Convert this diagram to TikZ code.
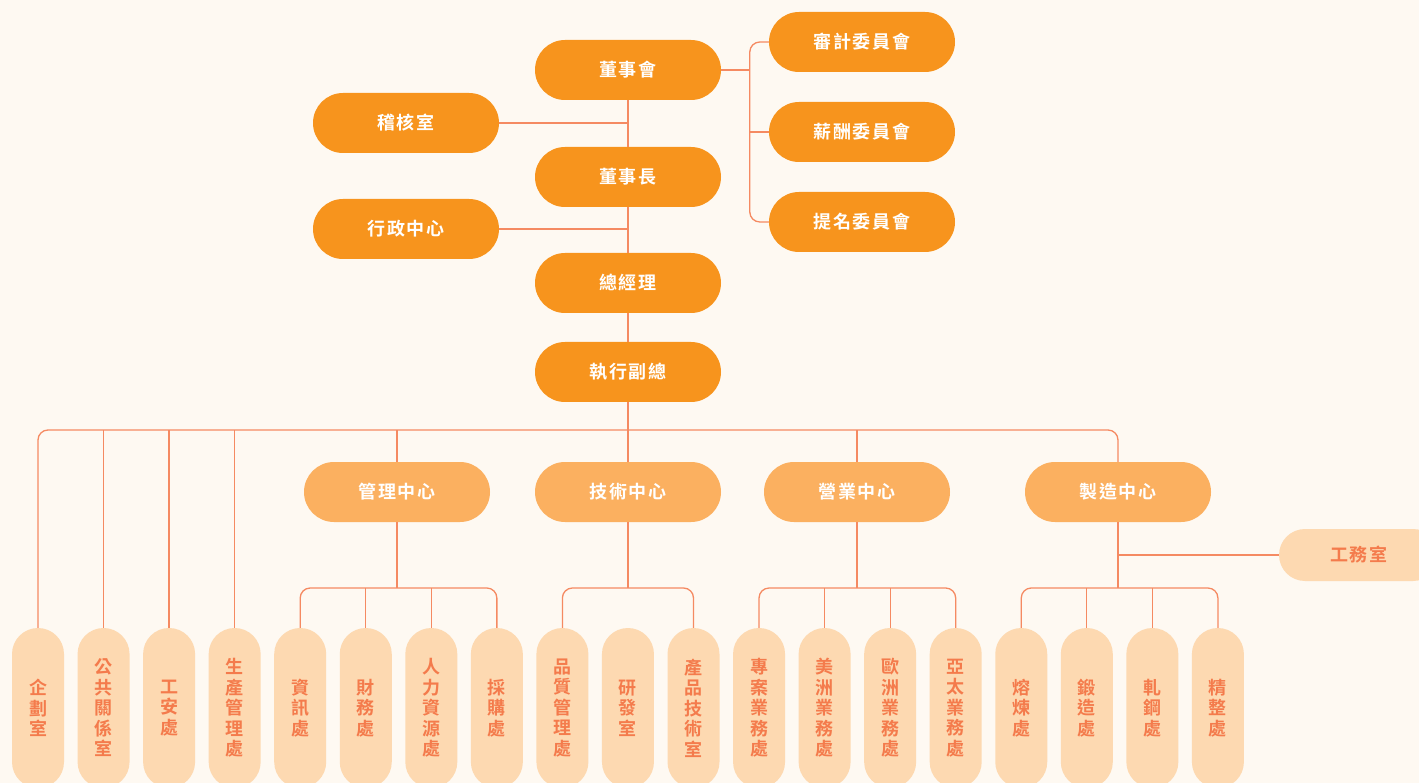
\documentclass[tikz,border=0pt]{standalone}
\usepackage{fontspec}
\newfontfamily\cjk{Noto Sans CJK TC}[BoldFont={Noto Sans CJK TC Bold},LetterSpace=10]
\newfontfamily\cjkv{Noto Sans CJK TC}[BoldFont={Noto Sans CJK TC Bold}]
\usetikzlibrary{calc}

\definecolor{bgc}{HTML}{FEF9F2}
\definecolor{darkor}{HTML}{F7941D}
\definecolor{midor}{HTML}{FBB060}
\definecolor{lightor}{HTML}{FDD9B1}
\definecolor{textor}{HTML}{F47B4C}
\definecolor{linec}{HTML}{F58A62}

\begin{document}
\begin{tikzpicture}[x=1pt,y=1pt,yscale=-1,xscale=1,
    topbox/.style={fill=darkor,rounded corners=30pt,minimum width=186pt,minimum height=60pt,inner sep=0pt,text=white,font=\cjk\bfseries\fontsize{18}{20}\selectfont},
    centerbox/.style={topbox,fill=midor},
    unitbox/.style={fill=lightor,rounded corners=26pt,minimum width=52pt,minimum height=160pt,inner sep=0pt,align=center,text=textor,font=\cjkv\bfseries\fontsize{18}{20.5}\selectfont},
    sidebox/.style={fill=lightor,rounded corners=26pt,minimum width=160pt,minimum height=52pt,inner sep=0pt,text=textor,font=\cjk\bfseries\fontsize{18}{20}\selectfont},
    link/.style={draw=linec,line width=1.3pt}]
            \fill[bgc] (0,0) rectangle (1419,783);
            \useasboundingbox (0,0) rectangle (1419,783);

            % board and management
            \node[topbox] (dsh) at (628,70) {董事會};
            \node[topbox] (jhs) at (406,123) {稽核室};
            \node[topbox] (dsz) at (628,177) {董事長};
            \node[topbox] (xz) at (406,229) {行政中心};
            \node[topbox] (zjl) at (628,283) {總經理};
            \node[topbox] (fz) at (628,372) {執行副總};
            \node[topbox] (sj) at (862,42) {審計委員會};
            \node[topbox] (xc) at (862,132) {薪酬委員會};
            \node[topbox] (tm) at (862,222) {提名委員會};

            % centers
            \node[centerbox] (gl) at (397,492) {管理中心};
            \node[centerbox] (js) at (628,492) {技術中心};
            \node[centerbox] (yy) at (857,492) {營業中心};
            \node[centerbox] (zz) at (1118,492) {製造中心};
            \node[sidebox] (gws) at (1359,555) {工務室};

            % units
            \foreach \nm/\txt [count=\i from 0] in {qh/企\\劃\\室,gg/公\\共\\關\\係\\室,ga/工\\安\\處,sc/生\\產\\管\\理\\處,
                zx/資\\訊\\處,cw/財\\務\\處,rl/人\\力\\資\\源\\處,cg/採\\購\\處,
                pz/品\\質\\管\\理\\處,yf/研\\發\\室,cp/產\\品\\技\\術\\室,
                zy/專\\案\\業\\務\\處,mz/美\\洲\\業\\務\\處,oz/歐\\洲\\業\\務\\處,yt/亞\\太\\業\\務\\處,
                rn/熔\\煉\\處,dz/鍛\\造\\處,zg/軋\\鋼\\處,jz/精\\整\\處}
                \node[unitbox] (\nm) at (38+65.55*\i,708) {\txt};

            \coordinate (bus) at (0,430);
            \coordinate (sub) at (0,588);

            % trunk
            \draw[link] (dsh.south) -- (dsz.north);
            \draw[link] (dsz.south) -- (zjl.north);
            \draw[link] (zjl.south) -- (fz.north);
            \draw[link] (fz.south) -- (js.north);
            \draw[link] (jhs.east) -- (jhs.east -| dsh.south);
            \draw[link] (xz.east) -- (xz.east -| dsz.south);

            % committees
            \draw[link] (dsh.east) -- ($(dsh.east)+(29,0)$);
            \draw[link,rounded corners=10pt] (sj.west) -- ++(-19,0) |- (tm.west);
            \draw[link] (xc.west) -- ++(-19,0);

            % bus under the vice president
            \draw[link,rounded corners=10pt] (qh.north) |- (zz.north |- bus) -- (zz.north);
            \foreach \nm in {gg,ga,sc,gl,yy}
                \draw[link] (\nm.north) -- (\nm.north |- bus);

            % center brackets
            \draw[link,rounded corners=10pt] (zx.north) |- (cg.north |- sub) -- (cg.north);
            \draw[link,rounded corners=10pt] (pz.north) |- (cp.north |- sub) -- (cp.north);
            \draw[link,rounded corners=10pt] (zy.north) |- (yt.north |- sub) -- (yt.north);
            \draw[link,rounded corners=10pt] (rn.north) |- (jz.north |- sub) -- (jz.north);
            \foreach \c in {gl,js,yy,zz}
                \draw[link] (\c.south) -- (\c.south |- sub);
            \foreach \nm in {cw,rl,mz,oz,dz,zg}
                \draw[link] (\nm.north) -- (\nm.north |- sub);
            \draw[link] (gws.west) -- (gws.west -| zz.south);
\end{tikzpicture}
\end{document}
